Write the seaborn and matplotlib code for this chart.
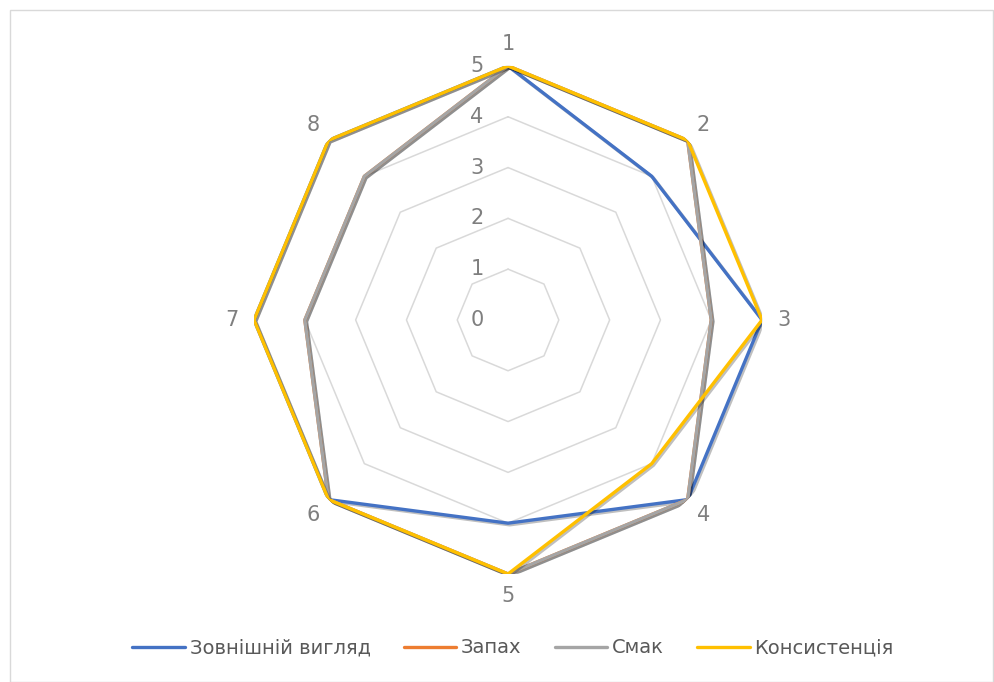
import numpy as np
import pandas as pd
import seaborn as sns
from matplotlib import pyplot as plt
from matplotlib import patheffects as pe
from matplotlib import transforms as mtransforms
from matplotlib.patches import Rectangle

categories = ["1", "2", "3", "4", "5", "6", "7", "8"]
series_names = ["Зовнішній вигляд", "Запах", "Смак", "Консистенція"]
appearance = [5, 4, 5, 5, 4, 5, 5, 5]
smell = [5, 5, 4, 5, 5, 5, 4, 4]
taste = [5, 5, 4, 5, 5, 5, 4, 4]
consistency = [5, 5, 5, 4, 5, 5, 5, 5]
ring_values = [0, 1, 2, 3, 4, 5]
colors = ["#4472C4", "#ED7D31", "#A5A5A5", "#FFC000"]

sns.set_theme(style="white")
plt.rcParams["font.family"] = ["DejaVu Sans"]

theta = np.linspace(0, 2 * np.pi, len(categories), endpoint=False)
theta_closed = np.append(theta, 2 * np.pi)

rows = []
for name, vals in zip(series_names, [appearance, smell, taste, consistency]):
    closed = list(vals) + [vals[0]]
    for t, v in zip(theta_closed, closed):
        rows.append({"theta": t, "value": v, "series": name})
df = pd.DataFrame(rows)

fig = plt.figure(figsize=(9.95, 6.82), dpi=100)
fig.patches.append(Rectangle((10 / 995, 0), 983 / 995, 672 / 682, transform=fig.transFigure,
                             fill=False, edgecolor="#D9D9D9", linewidth=1))
ax = fig.add_axes([0.2553, 0.1584, 0.5106, 0.7449], projection="polar")
ax.set_theta_offset(np.pi / 2)
ax.set_theta_direction(-1)
ax.grid(False)
ax.spines["polar"].set_visible(False)
ax.set_facecolor("none")

# octagonal gridlines
for r in ring_values[1:]:
    ax.plot(theta_closed, [r] * len(theta_closed), color="#D9D9D9", linewidth=1.1, zorder=1)

sns.lineplot(data=df, x="theta", y="value", hue="series", palette=colors, sort=False,
             estimator=None, linewidth=2.4, ax=ax, legend=False, zorder=3)
for line in ax.lines[len(ring_values) - 1:]:
    line.set_path_effects([pe.SimpleLineShadow(offset=(1.2, -1.2), alpha=0.25, shadow_color="black"),
                           pe.Normal()])

ax.set_ylim(0, 5)
ax.set_yticks([])
ax.set_xticks(theta)
ax.set_xticklabels(categories, fontsize=15, color="#7F7F7F")
ax.tick_params(axis="x", pad=3)
ax.set_xlabel("")
ax.set_ylabel("")

offset = mtransforms.ScaledTranslation(-0.31, 0, fig.dpi_scale_trans)
for r in ring_values:
    ax.text(0, r, str(r), transform=ax.transData + offset, ha="center", va="center",
            fontsize=15, color="#7F7F7F")

handles = [plt.Line2D([], [], color=c, linewidth=2.4) for c in colors]
fig.legend(handles, series_names, loc="center", bbox_to_anchor=(0.5156, 0.05), ncol=4,
           frameon=False, fontsize=14, handlelength=2.7, handletextpad=0.25,
           columnspacing=1.7, labelcolor="#595959")

fig.savefig("out.png", dpi=100)
